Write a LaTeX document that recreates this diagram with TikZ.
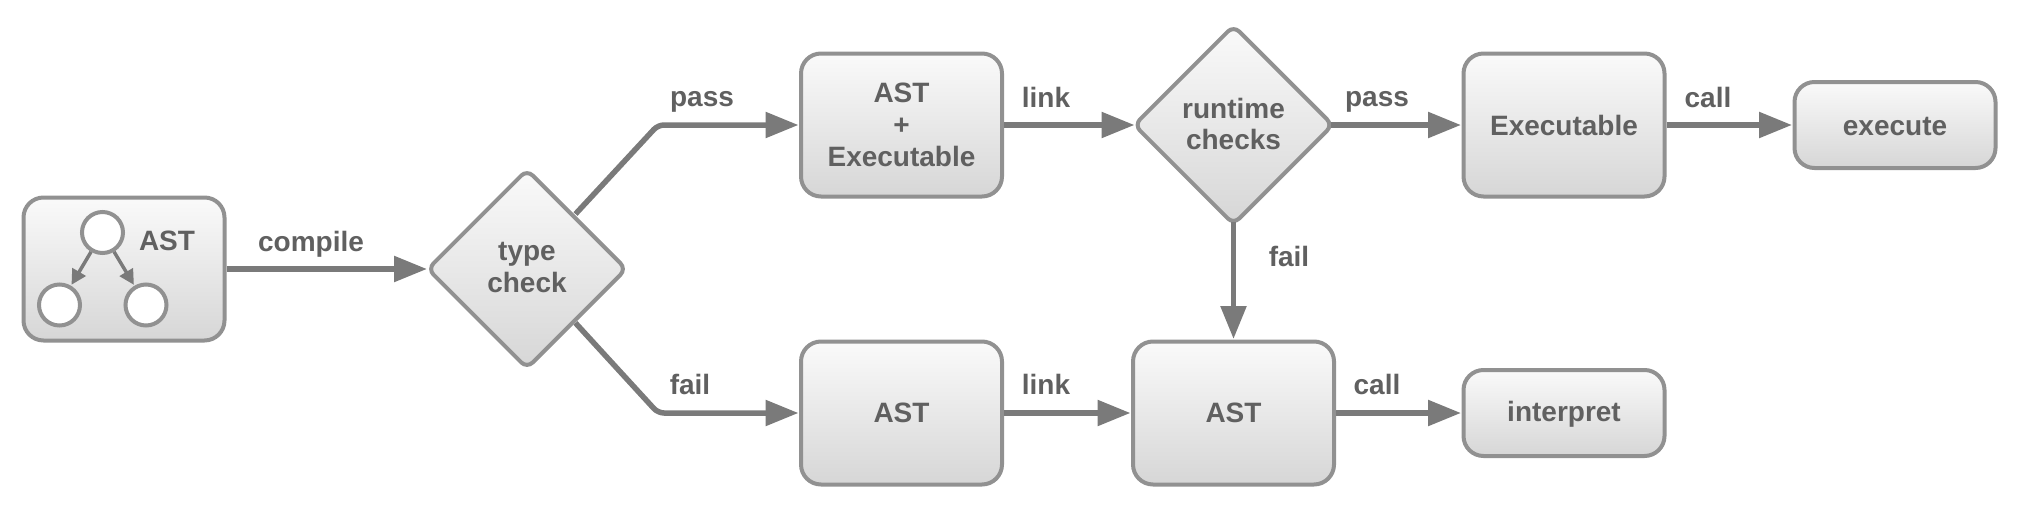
\documentclass[tikz,border=0pt]{standalone}
\usepackage{fontspec}
\setmainfont{Liberation Sans}
\usetikzlibrary{shapes.geometric,arrows.meta}
\definecolor{edgegray}{HTML}{919191}
\definecolor{flowgray}{HTML}{7A7A7A}
\definecolor{textgray}{HTML}{606060}
\def\nudge#1#2{\raisebox{#1}[\height][\depth]{#2}}
\tikzset{
  txt/.style={text=textgray,align=center,font=\fontsize{28}{32}\selectfont\bfseries},
  filled/.style={txt,draw=edgegray,line width=4pt,top color=black!2,bottom color=black!16,inner sep=0pt},
  tall/.style={filled,rectangle,rounded corners=20pt,minimum width=201pt,minimum height=143pt},
  flat/.style={filled,rectangle,rounded corners=20pt,minimum width=201pt,minimum height=86pt},
  decide/.style={filled,diamond,rounded corners=8pt,minimum width=200pt,minimum height=200pt},
  leaf/.style={circle,draw=edgegray,fill=white,line width=4pt,minimum size=41pt,inner sep=0pt},
  flow/.style={draw=flowgray,line width=5.5pt,rounded corners=6pt,shorten >=0.5pt,-{Triangle[length=33pt,width=25pt]}},
  treeflow/.style={draw=flowgray,line width=3.5pt,shorten >=1pt,-{Triangle[length=15pt,width=15pt]}},
}
\begin{document}
\begin{tikzpicture}[x=1pt,y=-1pt]
  \useasboundingbox (0,0) rectangle (2018,506);
  \node[tall] (astbox) at (124,269) {};
  \node[decide] (typecheck) at (527,269) {\nudge{1.5pt}{type}\\[-1pt]\nudge{1.5pt}{check}};
  \node[tall] (astexe) at (901.5,125) {AST\\+\\Executable};
  \node[tall] (astlow) at (901.5,413) {AST};
  \node[decide] (runtime) at (1233.5,125) {\nudge{1.5pt}{runtime}\\[-1pt]\nudge{1.5pt}{checks}};
  \node[tall] (astrun) at (1233.5,413) {AST};
  \node[tall] (exec) at (1564,125) {Executable};
  \node[flat] (execute) at (1895,125) {\nudge{-1.5pt}{execute}};
  \node[flat] (interpret) at (1564,413) {\nudge{-1.5pt}{interpret}};

  \node[leaf] (root) at (102.5,232.5) {};
  \node[leaf] (leftleaf) at (59.5,305) {};
  \node[leaf] (rightleaf) at (146,305) {};
  \node[txt] (astlabel) at (167,241) {AST};
  \draw[treeflow] (root) -- (leftleaf);
  \draw[treeflow] (root) -- (rightleaf);

  \coordinate (passbend) at (658,125);
  \coordinate (failbend) at (658,413);
  \draw[flow,shorten >=-2pt] (astbox.east) -- (typecheck.west);
  \draw[flow] ([shift={(-2.5,-4)}]typecheck.north east) -- (passbend) -- (astexe.west);
  \draw[flow] ([shift={(-2.5,3)}]typecheck.south east) -- (failbend) -- (astlow.west);
  \draw[flow,shorten >=-3pt] (astexe.east) -- (runtime.west);
  \draw[flow] (astlow.east) -- (astrun.west);
  \draw[flow,shorten <=-5pt] (runtime.east) -- (exec.west);
  \draw[flow,shorten <=-5pt] (runtime.south) -- (astrun.north);
  \draw[flow] (exec.east) -- (execute.west);
  \draw[flow] (astrun.east) -- (interpret.west);

  \node[txt] (compilelabel) at (311,244) {compile};
  \node[txt] (passlabel) at (702,102) {pass};
  \node[txt] (faillabel) at (690,384) {fail};
  \node[txt] (linklabel) at (1046,97) {link};
  \node[txt] (linklow) at (1046,384) {link};
  \node[txt] (passrun) at (1377,102) {pass};
  \node[txt] (failrun) at (1289,256) {fail};
  \node[txt] (callexec) at (1708,97) {call};
  \node[txt] (callrun) at (1377,384) {call};
\end{tikzpicture}
\end{document}
